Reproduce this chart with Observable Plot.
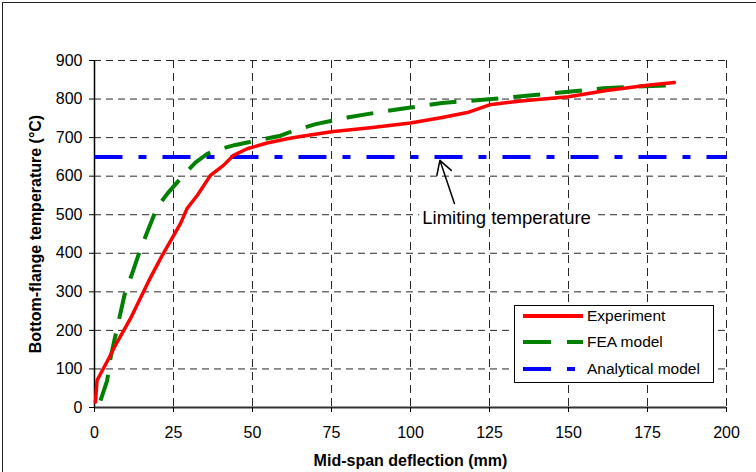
<!DOCTYPE html>
<html><head><meta charset="utf-8">
<script src="https://cdn.jsdelivr.net/npm/d3@7"></script>
<script src="https://cdn.jsdelivr.net/npm/@observablehq/plot@0.6"></script>
<style>
body{margin:0;background:#fff;}
#wrap{position:relative;width:756px;height:472px;font-family:"Liberation Sans",Arial,sans-serif;overflow:hidden;}
#chart svg{display:block;}
#border{position:absolute;left:2px;top:2px;right:-10px;bottom:-10px;border-left:1.5px solid #222;border-top:1.5px solid #222;pointer-events:none;}
#legend{position:absolute;left:514px;top:305px;width:198px;height:76px;border:1px solid #000;background:#fff;}
.row{position:absolute;left:8px;height:20px;display:flex;align-items:center;font-size:15.5px;color:#000;white-space:nowrap;}
.row svg{margin-right:4px;}
</style></head><body>
<div id="wrap"><div id="chart"></div><div id="legend"></div><div id="border"></div></div>
<script>
// Experiment series
const expDefl = [0.3,0.8,4.5,6.6,11.4,17.2,21.4,27.2,29.3,32.5,36.7,40.8,44,48.3,54.6,61,65.2,75,88,100,110,118,125,135,150,162,175,183.5];
const expTemp = [14,70,127,161,231,329,394,477,516,550,602,628,654,671,686,697,703,715,726,738,752,765,785,795,806,822,836,843];
// FEA model series
const feaDefl = [1.9,4,5.1,7.2,9.8,11.9,14.6,16.7,19.8,23,28.3,32,35.7,39.3,44.6,50.4,58.9,63,70,80,90,100,110,120,130,141,150,161,170,183];
const feaTemp = [18,70,130,208,303,347,412,455,519,554,604,636,658,669,681,691,705,718,735,752,766,778,790,796,803,812,819,828,832,836];
// Analytical model (limiting temperature)
const anaDefl = [0,200];
const anaTemp = [650,650];
// Axis ticks
const xTicks = [0,25,50,75,100,125,150,175,200];
const yTicks = [0,100,200,300,400,500,600,700,800,900];
// Labels
const seriesNames = ["Experiment","FEA model","Analytical model"];
const xTitle = "Mid-span deflection (mm)";
const yTitle = "Bottom-flange temperature (°C)";
const annText = "Limiting temperature";
const annArrow = [{x1:113.9,y1:529,x2:109.3,y2:641}];
const annLabel = [{x:130.4,y:490,text:annText}];

const exp = expDefl.map((d,i)=>({x:d,y:expTemp[i]}));
const fea = feaDefl.map((d,i)=>({x:d,y:feaTemp[i]}));
const ana = anaDefl.map((d,i)=>({x:d,y:anaTemp[i]}));

const font = '"Liberation Sans", Arial, sans-serif';
const chart = Plot.plot({
  width:756, height:472,
  marginLeft:94, marginRight:30, marginTop:60, marginBottom:65,
  x:{domain:[0,200]},
  y:{domain:[0,900]},
  style:{fontFamily:font, fontSize:"16px", color:"#000", background:"transparent"},
  marks:[
    Plot.gridY(yTicks,{stroke:"#000", strokeOpacity:0.85, strokeDasharray:"7,5"}),
    Plot.gridX(xTicks,{stroke:"#000", strokeOpacity:0.85, strokeDasharray:"8,5"}),
    Plot.ruleX([0],{stroke:"#000", strokeWidth:1.5}),
    Plot.ruleY([0],{stroke:"#333", strokeWidth:2}),
    Plot.axisY(yTicks,{tickSize:5, tickPadding:7, fontSize:16, label:null, stroke:"#000"}),
    Plot.axisX(xTicks,{tickSize:5, tickPadding:14, fontSize:16, label:null, stroke:"#000"}),
    Plot.text(annLabel,{x:"x",y:"y",text:"text",fontSize:18.5,fill:"#000",stroke:"#fff",strokeWidth:9}),
    Plot.line(ana,{x:"x",y:"y",stroke:"#0000ff",strokeWidth:4,strokeDasharray:"28,16,8,16",strokeLinecap:"butt"}),
    Plot.line(fea,{x:"x",y:"y",stroke:"#008000",strokeWidth:4,strokeDasharray:"27,15",strokeLinecap:"butt"}),
    Plot.line(exp,{x:"x",y:"y",stroke:"#ff0000",strokeWidth:3.5}),
    Plot.arrow(annArrow,{x1:"x1",y1:"y1",x2:"x2",y2:"y2",stroke:"#000",strokeWidth:1.5,headLength:20,headAngle:60}),
    Plot.text([xTitle],{text:d=>d,frameAnchor:"bottom",dy:58,lineAnchor:"bottom",fontWeight:"bold",fontSize:16,fill:"#000"}),
    Plot.text([yTitle],{text:d=>d,frameAnchor:"left",textAnchor:"middle",dx:-59,rotate:-90,fontWeight:"bold",fontSize:16,fill:"#000"})
  ]
});
document.getElementById("chart").appendChild(chart);

// Legend
const legendStyles = [
  {stroke:"#ff0000", dash:null},
  {stroke:"#008000", dash:"28,16"},
  {stroke:"#0000ff", dash:"28,16,8,16"}
];
const legend = document.getElementById("legend");
seriesNames.forEach((name,i)=>{
  const row = document.createElement("div");
  row.className = "row";
  row.style.top = (i===0?0:(i===1?26:53))+"px";
  const st = legendStyles[i];
  row.innerHTML = `<svg width="60" height="20"><line x1="0" y1="10" x2="60" y2="10" stroke="${st.stroke}" stroke-width="4" ${st.dash?`stroke-dasharray="${st.dash}"`:""}/></svg><span>${name}</span>`;
  legend.appendChild(row);
});
</script>
</body></html>
